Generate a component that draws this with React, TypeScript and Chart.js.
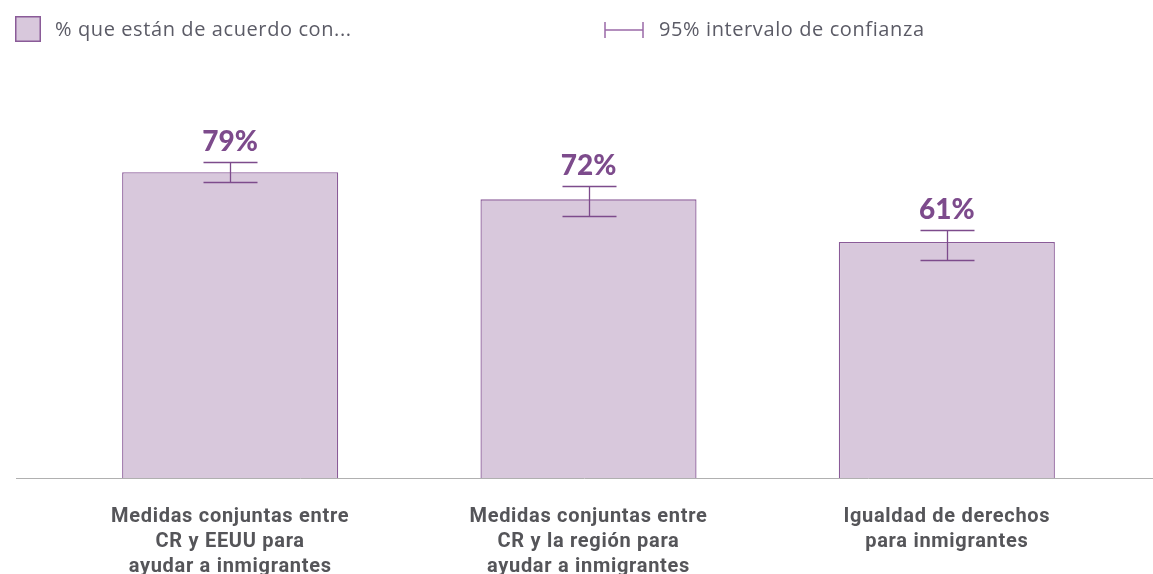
import React, { useEffect, useRef } from "react";
import { Chart, registerables } from "chart.js";

Chart.register(...registerables);

const categories: string[][] = [
  ["Medidas conjuntas entre", "CR y EEUU para", "ayudar a inmigrantes"],
  ["Medidas conjuntas entre", "CR y la región para", "ayudar a inmigrantes"],
  ["Igualdad de derechos", "para inmigrantes"],
];
const values = [79, 72, 61];
const ciLow = [76.5, 67.7, 56.3];
const ciHigh = [81.6, 75.4, 64.1];
const valueLabels = ["79%", "72%", "61%"];
const legendBarLabel = "% que están de acuerdo con...";
const legendCiLabel = "95% intervalo de confianza";

const PURPLE = "#7d4b8c";
const BAR_FILL = "#d8c8dc";
const BAR_BORDER = "#8a5b98";
const TEXT_GREY = "#5b5b66";

const overlayPlugin = {
  id: "overlay",
  afterDatasetsDraw(chart: any) {
    const ctx = chart.ctx;
    const y = chart.scales.y;
    const meta = chart.getDatasetMeta(0);
    ctx.save();
    // baseline
    ctx.strokeStyle = "#b0b0b0";
    ctx.lineWidth = 1;
    ctx.beginPath();
    const by = Math.round(y.getPixelForValue(0)) + 0.5;
    ctx.moveTo(16, by);
    ctx.lineTo(chart.width, by);
    ctx.stroke();

    meta.data.forEach((bar: any, i: number) => {
      const cx = Math.round(bar.x) + 0.5;
      const yHi = Math.round(y.getPixelForValue(ciHigh[i])) + 0.5;
      const yLo = Math.round(y.getPixelForValue(ciLow[i])) + 0.5;
      ctx.strokeStyle = PURPLE;
      ctx.lineWidth = 1.3;
      ctx.beginPath();
      ctx.moveTo(cx, yHi);
      ctx.lineTo(cx, yLo);
      ctx.moveTo(cx - 27, yHi);
      ctx.lineTo(cx + 27, yHi);
      ctx.moveTo(cx - 27, yLo);
      ctx.lineTo(cx + 27, yLo);
      ctx.stroke();

      ctx.fillStyle = PURPLE;
      ctx.font = "900 28px Lato";
      ctx.textAlign = "center";
      ctx.textBaseline = "middle";
      (ctx as any).letterSpacing = "0px";
      ctx.fillText(valueLabels[i], bar.x, yHi - 21);

      ctx.fillStyle = "#555559";
      ctx.font = "bold 20px Roboto";
      (ctx as any).letterSpacing = "0.7px";
      categories[i].forEach((line, j) => {
        ctx.fillText(line, bar.x, 517 + j * 25);
      });
      (ctx as any).letterSpacing = "0px";
    });

    // legend
    ctx.fillStyle = BAR_FILL;
    ctx.fillRect(15, 16, 26, 26);
    ctx.strokeStyle = BAR_BORDER;
    ctx.lineWidth = 1.5;
    ctx.strokeRect(15.75, 16.75, 24.5, 24.5);
    ctx.fillStyle = TEXT_GREY;
    ctx.font = "20px 'Open Sans'";
    (ctx as any).letterSpacing = "0.6px";
    ctx.textAlign = "left";
    ctx.textBaseline = "middle";
    ctx.fillText(legendBarLabel, 55, 30);

    ctx.strokeStyle = "#9a6aa8";
    ctx.lineWidth = 1.5;
    ctx.beginPath();
    ctx.moveTo(605, 22);
    ctx.lineTo(605, 38);
    ctx.moveTo(643, 22);
    ctx.lineTo(643, 38);
    ctx.moveTo(605, 30);
    ctx.lineTo(643, 30);
    ctx.stroke();
    ctx.fillText(legendCiLabel, 659, 30);
    (ctx as any).letterSpacing = "0px";
    ctx.restore();
  },
};

export default function App() {
  const ref = useRef<HTMLCanvasElement>(null);
  useEffect(() => {
    document.body.style.margin = "0";
    const chart = new Chart(ref.current!, {
      type: "bar",
      data: {
        labels: categories.map((c) => c.join(" ")),
        datasets: [
          {
            data: values,
            backgroundColor: BAR_FILL,
            borderColor: BAR_BORDER,
            borderWidth: 1.3,
            barPercentage: 0.603,
            categoryPercentage: 1,
          },
        ],
      },
      options: {
        responsive: false,
        animation: false,
        layout: { padding: { left: 51, right: 27, top: 91, bottom: 96 } },
        scales: {
          x: { display: false },
          y: { display: false, min: 0, max: 100 },
        },
        plugins: { legend: { display: false }, tooltip: { enabled: false } },
      },
      plugins: [overlayPlugin],
    });
    return () => chart.destroy();
  }, []);
  return (
    <div style={{ width: 1153, height: 574 }}>
      <canvas ref={ref} width={1153} height={574} />
    </div>
  );
}
